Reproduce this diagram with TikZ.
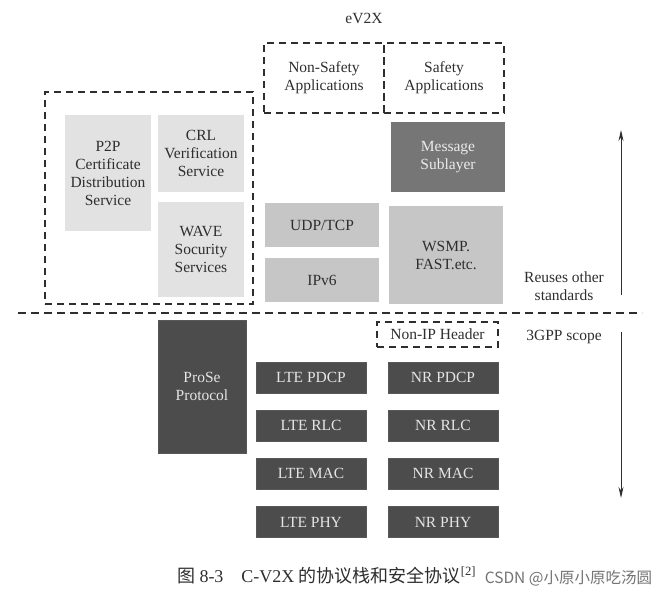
\documentclass[tikz,border=0pt]{standalone}
\usepackage{fontspec}
\setmainfont{Liberation Serif}
\newfontfamily\cjk{Noto Sans CJK SC}
\usetikzlibrary{arrows.meta}
\definecolor{lightbox}{HTML}{E2E2E2}
\definecolor{midbox}{HTML}{C6C6C6}
\definecolor{msgbox}{HTML}{767676}
\definecolor{darkbox}{HTML}{4C4C4C}
\definecolor{ink}{HTML}{2E2E2E}
\begin{document}
\begin{tikzpicture}[x=1pt,y=-1pt,
  every node/.style={inner sep=0pt, outer sep=0pt, text=ink, font=\fontsize{15.5}{18}\selectfont, align=center},
  dashbox/.style={draw=ink, line width=1.4pt, dash pattern=on 7pt off 5pt},
  lightrect/.style={fill=lightbox},
  midrect/.style={fill=midbox},
  msgrect/.style={fill=msgbox, text=white!92!black},
  darkrect/.style={fill=darkbox, draw=ink!80, line width=0.8pt, text=white!90!black},
  layer/.style={darkrect, minimum width=110pt, minimum height=31pt},
  arr/.style={draw=ink, line width=1pt, -{Stealth[length=11pt,width=5pt]}},
  sep/.style={draw=ink, line width=1.4pt, dash pattern=on 8pt off 5pt}]
\useasboundingbox (0,0) rectangle (668,593);
% upper part
\node[dashbox, minimum width=208pt, minimum height=212pt] (secbox) at (149,198) {};
\node[lightrect, minimum width=86pt, minimum height=116pt] (p2p) at (108,173) {P2P\\Certificate\\Distribution\\Service};
\node[lightrect, minimum width=86pt, minimum height=77pt] (crl) at (201,153.5) {CRL\\Verification\\Service};
\node[lightrect, minimum width=86pt, minimum height=95pt] (wave) at (201,249.5) {WAVE\\Socurity\\Services};
\node (ev2x) at (364,18) {eV2X};
\node[dashbox, minimum width=120pt, minimum height=70pt] (nonsafety) at (324,78) {Non-Safety\\Applications};
\node[dashbox, minimum width=120pt, minimum height=70pt] (safety) at (444,78) {Safety\\Applications};
\node[msgrect, minimum width=114pt, minimum height=70pt] (msg) at (448,157) {Message\\Sublayer};
\node[midrect, minimum width=114pt, minimum height=44pt] (udp) at (322,225) {UDP/TCP};
\node[midrect, minimum width=114pt, minimum height=44pt] (ipv6) at (322,280) {IPv6};
\node[midrect, minimum width=114pt, minimum height=98pt] (wsmp) at (446,255) {WSMP.\\FAST.etc.};
\node (reuses) at (564,286) {Reuses other\\standards};
\coordinate (upa) at (621,295);
\coordinate (upb) at (621,130);
\draw[arr] (upa) -- (upb);
% separator
\coordinate (sepa) at (18,313);
\coordinate (sepb) at (642,313);
\draw[sep] (sepa) -- (sepb);
% lower part
\node[darkrect, minimum width=88pt, minimum height=133pt] (prose) at (202,386.5) {ProSe\\Protocol};
\node[dashbox, minimum width=121pt, minimum height=25pt] (nonip) at (437.5,334.5) {Non-IP Header};
\node (scope) at (564,337) {3GPP scope};
\coordinate (dna) at (621,332);
\coordinate (dnb) at (621,498);
\draw[arr] (dna) -- (dnb);
\node[layer] (ltepdcp) at (311,377.5) {LTE PDCP};
\node[layer] (lterlc) at (311,425.5) {LTE RLC};
\node[layer] (ltemac) at (311,473.5) {LTE MAC};
\node[layer] (ltephy) at (311,522) {LTE PHY};
\node[layer] (nrpdcp) at (443,377.5) {NR PDCP};
\node[layer] (nrrlc) at (443,425.5) {NR RLC};
\node[layer] (nrmac) at (443,473.5) {NR MAC};
\node[layer] (nrphy) at (443,522) {NR PHY};
% caption
\node[anchor=base west, font=\fontsize{18}{21}\selectfont] (caption) at (177,582) {{\cjk 图} 8-3\hspace{18pt}C-V2X {\cjk 的协议栈和安全协议}\textsuperscript{[2]}};
\node[anchor=base east, text=black!55, font=\cjk\fontsize{15.5}{18}\selectfont] (mark) at (652,583) {CSDN @小原小原吃汤圆};
\end{tikzpicture}
\end{document}
